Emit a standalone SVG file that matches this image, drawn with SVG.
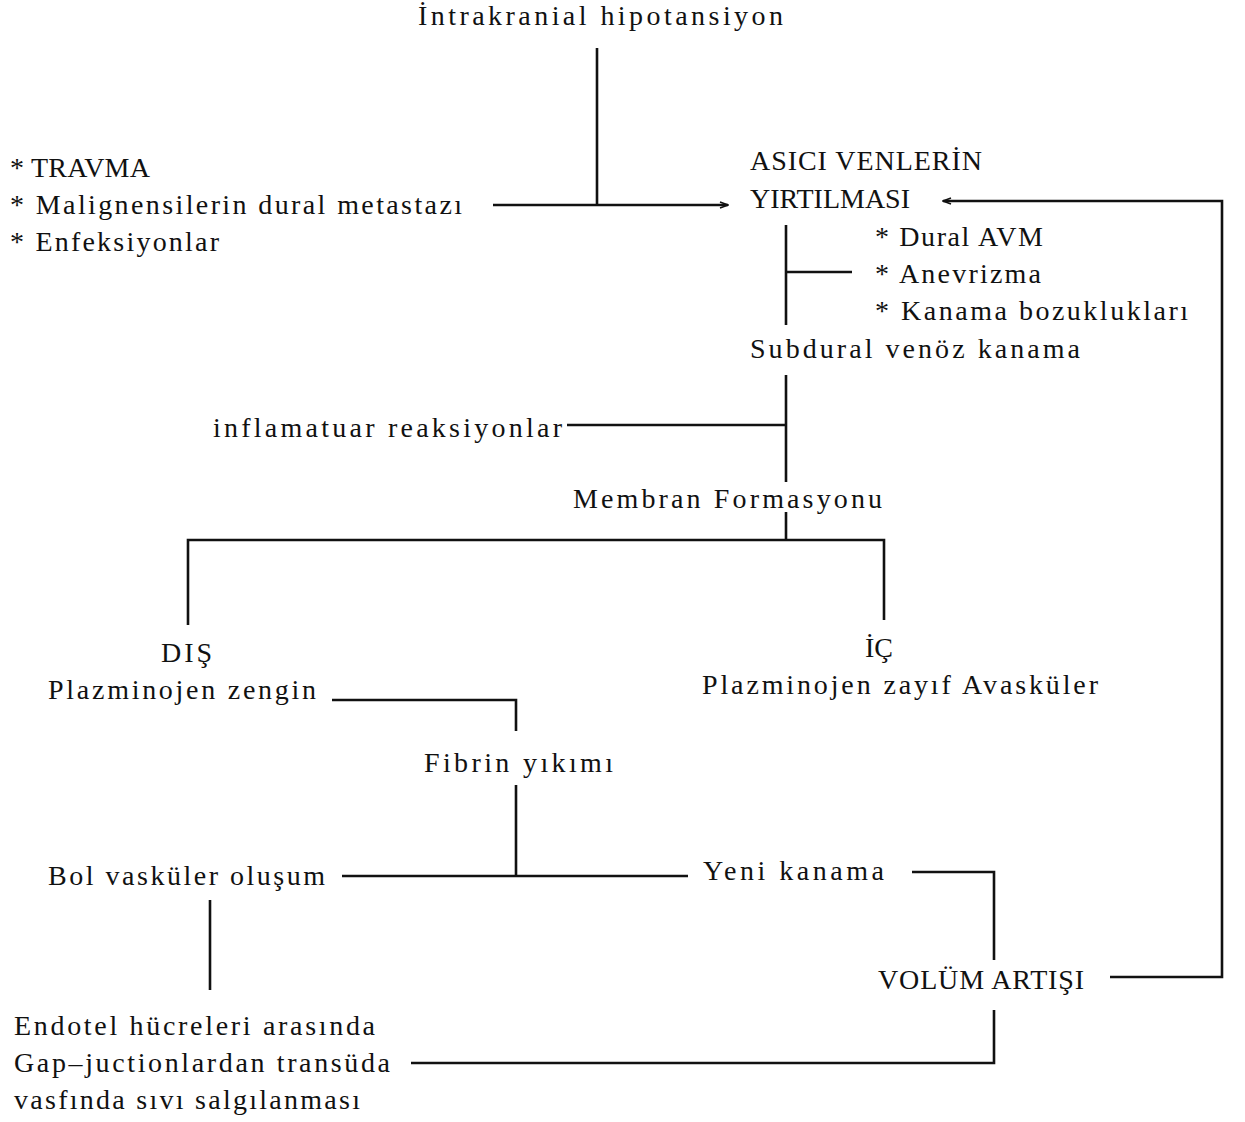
<svg xmlns="http://www.w3.org/2000/svg" width="1245" height="1122" viewBox="0 0 1245 1122">
<style>
text{font-family:"Liberation Serif","DejaVu Serif",serif;font-size:28px;fill:#111;}
.c{fill:none;stroke:#111;stroke-width:2.6;}
</style>
<defs>
<marker id="ah" viewBox="0 0 10 10" refX="9" refY="5" markerWidth="10" markerHeight="10" markerUnits="userSpaceOnUse" orient="auto">
<path d="M1,2 L9,5 L1,8" fill="none" stroke="#111" stroke-width="1.5"/>
</marker>
</defs>
<rect width="1245" height="1122" fill="#fff"/>
<g id="connectors">
<path class="c" d="M597,48 V205"/>
<path class="c" d="M493,205 H728" marker-end="url(#ah)"/>
<path class="c" d="M1110,977 H1222 V201 H943" marker-end="url(#ah)"/>
<path class="c" d="M786,225 V325"/>
<path class="c" d="M786,272 H852"/>
<path class="c" d="M786,375 V482"/>
<path class="c" d="M567,425 H786"/>
<path class="c" d="M786,512 V540"/>
<path class="c" d="M188,625 V540 H884 V620"/>
<path class="c" d="M332,700 H516 V731"/>
<path class="c" d="M516,785 V876"/>
<path class="c" d="M342,876 H688"/>
<path class="c" d="M912,872 H994 V960"/>
<path class="c" d="M994,1010 V1063 H411"/>
<path class="c" d="M210,900 V990"/>
</g>
<g id="n_hipotansiyon"><text x="418" y="25" textLength="365" lengthAdjust="spacing">İntrakranial hipotansiyon</text></g>
<g id="n_causes">
<text x="10" y="177" textLength="140" lengthAdjust="spacing">* TRAVMA</text>
<text x="10" y="214" textLength="452" lengthAdjust="spacing">* Malignensilerin dural metastazı</text>
<text x="10" y="251" textLength="209" lengthAdjust="spacing">* Enfeksiyonlar</text>
</g>
<g id="n_asici">
<text x="750" y="170" textLength="232" lengthAdjust="spacing">ASICI VENLERİN</text>
<text x="750" y="208" textLength="160" lengthAdjust="spacing">YIRTILMASI</text>
</g>
<g id="n_risk">
<text x="875" y="246" textLength="168" lengthAdjust="spacing">* Dural AVM</text>
<text x="875" y="283" textLength="166" lengthAdjust="spacing">* Anevrizma</text>
<text x="875" y="320" textLength="313" lengthAdjust="spacing">* Kanama bozuklukları</text>
</g>
<g id="n_subdural"><text x="750" y="358" textLength="330" lengthAdjust="spacing">Subdural venöz kanama</text></g>
<g id="n_inflam"><text x="213" y="437" textLength="349" lengthAdjust="spacing">inflamatuar reaksiyonlar</text></g>
<g id="n_membran"><text x="573" y="508" textLength="309" lengthAdjust="spacing">Membran Formasyonu</text></g>
<g id="n_dis">
<text x="161" y="662" textLength="51" lengthAdjust="spacing">DIŞ</text>
<text x="48" y="699" textLength="268" lengthAdjust="spacing">Plazminojen zengin</text>
</g>
<g id="n_ic">
<text x="865" y="657">İÇ</text>
<text x="702" y="694" textLength="396" lengthAdjust="spacing">Plazminojen zayıf Avasküler</text>
</g>
<g id="n_fibrin"><text x="424" y="772" textLength="189" lengthAdjust="spacing">Fibrin yıkımı</text></g>
<g id="n_bol"><text x="48" y="885" textLength="277" lengthAdjust="spacing">Bol vasküler oluşum</text></g>
<g id="n_yeni"><text x="703" y="880" textLength="181" lengthAdjust="spacing">Yeni kanama</text></g>
<g id="n_volum"><text x="878" y="989" textLength="206" lengthAdjust="spacing">VOLÜM ARTIŞI</text></g>
<g id="n_endotel">
<text x="14" y="1035" textLength="361" lengthAdjust="spacing">Endotel hücreleri arasında</text>
<text x="14" y="1072" textLength="376" lengthAdjust="spacing">Gap–juctionlardan transüda</text>
<text x="14" y="1109" textLength="346" lengthAdjust="spacing">vasfında sıvı salgılanması</text>
</g>
</svg>
